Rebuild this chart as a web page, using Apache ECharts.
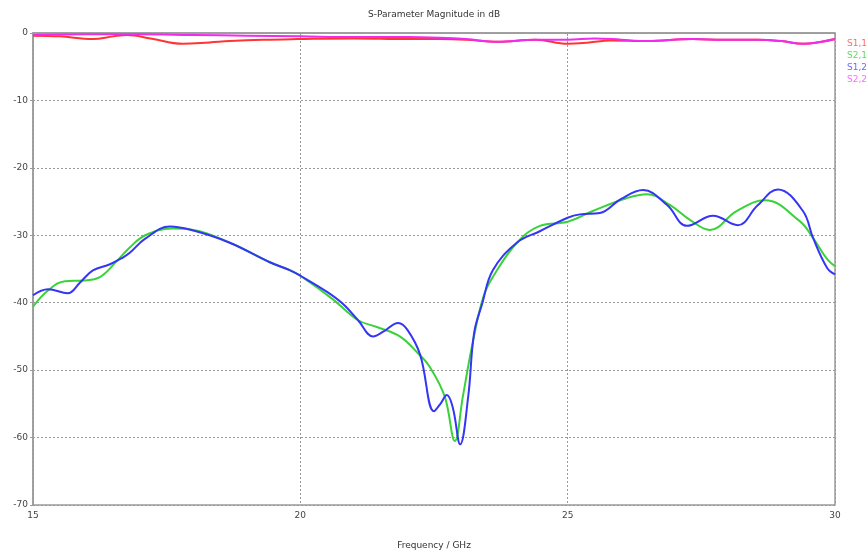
<!DOCTYPE html>
<html>
<head>
<meta charset="utf-8">
<style>
  html, body { margin: 0; padding: 0; background: #ffffff; }
  #chart { width: 868px; height: 555px; }
</style>
<script src="https://cdn.jsdelivr.net/npm/echarts@6/dist/echarts.min.js"></script>
</head>
<body>
<div id="chart"></div>
<script>
// S-parameter magnitudes (dB) over frequency (GHz)
const freqS11 = [15.0, 15.5, 16.12, 16.5, 16.76, 17.2, 17.8, 18.3, 18.68, 19.3, 19.94, 21.0, 22.0, 22.6, 23.1, 23.7, 24.4, 25.0, 25.4, 25.8, 26.48, 27.34, 27.9, 28.54, 29.0, 29.4, 29.75, 30.0];
const dbS11   = [-0.4, -0.5, -0.9, -0.5, -0.3, -0.8, -1.6, -1.4, -1.2, -1.0, -0.9, -0.8, -0.9, -0.9, -1.0, -1.3, -1.0, -1.6, -1.4, -1.1, -1.2, -0.9, -1.0, -1.0, -1.2, -1.6, -1.3, -0.9];

const freqS21 = [15.0, 15.28, 15.6, 15.94, 16.25, 16.57, 16.81, 17.1, 17.6, 18.0, 18.68, 19.43, 19.81, 20.0, 20.61, 21.08, 21.43, 21.86, 22.2, 22.42, 22.7, 22.89, 23.04, 23.21, 23.42, 23.6, 24.05, 24.48, 25.0, 25.47, 26.1, 26.48, 26.91, 27.3, 27.66, 28.16, 28.69, 29.34, 29.59, 29.85, 30.0];
const dbS21   = [-40.6, -38.2, -36.8, -36.7, -36.2, -33.8, -31.8, -30.0, -29.0, -29.2, -31.1, -34.0, -35.2, -36.0, -39.5, -42.6, -43.6, -45.0, -47.5, -49.5, -53.9, -60.5, -53.9, -46.5, -39.2, -36.2, -31.1, -28.6, -28.0, -26.4, -24.5, -23.9, -25.5, -27.8, -29.2, -26.4, -24.8, -27.9, -30.4, -33.5, -34.6];

const freqS12 = [15.0, 15.28, 15.65, 15.88, 16.12, 16.44, 16.68, 16.81, 17.1, 17.56, 18.0, 18.68, 19.43, 19.81, 20.0, 20.5, 20.8, 21.08, 21.36, 21.55, 21.83, 22.0, 22.24, 22.5, 22.62, 22.74, 22.85, 22.99, 23.14, 23.25, 23.4, 23.6, 24.05, 24.48, 25.0, 25.23, 25.6, 26.0, 26.41, 26.86, 27.23, 27.72, 28.18, 28.55, 28.93, 29.4, 29.59, 29.85, 30.0];
const dbS12   = [-38.9, -38.0, -38.6, -37.0, -35.2, -34.3, -33.3, -32.6, -30.5, -28.7, -29.3, -31.1, -34.0, -35.2, -36.0, -38.4, -40.2, -42.6, -45.0, -44.3, -43.0, -44.0, -47.7, -56.1, -55.0, -53.7, -55.5, -61.0, -53.9, -44.5, -40.2, -35.2, -31.1, -29.4, -27.4, -26.9, -26.7, -24.6, -23.3, -25.5, -28.6, -27.1, -28.5, -25.6, -23.2, -26.4, -30.4, -34.8, -35.8];

const freqS22 = [15.0, 16.0, 17.0, 18.0, 19.0, 20.0, 21.0, 22.0, 22.6, 23.1, 23.68, 24.4, 25.0, 25.5, 26.0, 26.48, 27.34, 27.9, 28.54, 29.0, 29.4, 29.75, 30.0];
const dbS22   = [-0.3, -0.2, -0.2, -0.3, -0.4, -0.5, -0.6, -0.6, -0.7, -0.9, -1.3, -1.0, -1.0, -0.8, -1.0, -1.2, -0.9, -1.0, -1.0, -1.2, -1.6, -1.3, -0.9];

const xTicks = [15, 20, 25, 30];
const yTicks = [0, -10, -20, -30, -40, -50, -60, -70];

const seriesNames = ['S1,1', 'S2,1', 'S1,2', 'S2,2'];
const lineColors  = ['#ff3434', '#3ad23a', '#3535f5', '#f02af0'];
const labelColors = ['#ff6a6a', '#5fdc5f', '#6a6aff', '#ff6aff'];

const pair = (xs, ys) => xs.map((x, i) => [x, ys[i]]);
const curves = [pair(freqS11, dbS11), pair(freqS21, dbS21), pair(freqS12, dbS12), pair(freqS22, dbS22)];

const fontFamily = 'DejaVu Sans, Verdana, sans-serif';

const chart = echarts.init(document.getElementById('chart'), null, { renderer: 'canvas' });
chart.setOption({
  animation: false,
  backgroundColor: '#ffffff',
  title: {
    text: 'S-Parameter Magnitude in dB',
    left: 'center',
    top: 5,
    textStyle: { fontSize: 9, fontWeight: 'normal', color: '#333', fontFamily: fontFamily }
  },
  legend: {
    orient: 'vertical',
    left: 842,
    top: 34,
    itemWidth: 0,
    itemHeight: 0,
    itemGap: 3,
    icon: 'rect',
    selectedMode: false,
    data: seriesNames.map((n, i) => ({ name: n, textStyle: { color: labelColors[i] } })),
    textStyle: { fontSize: 9, fontFamily: fontFamily, padding: [0, 0, 0, -5] }
  },
  grid: {
    left: 33, right: 33, top: 33, bottom: 44,
    show: true, borderColor: '#9a9a9a', borderWidth: 1.5, backgroundColor: '#ffffff'
  },
  xAxis: {
    type: 'value',
    min: xTicks[0], max: xTicks[xTicks.length - 1], interval: 5,
    name: 'Frequency / GHz',
    nameLocation: 'middle',
    nameGap: 36,
    nameTextStyle: { fontSize: 9, color: '#333', fontFamily: fontFamily },
    axisLine: { show: true, lineStyle: { color: '#9a9a9a', width: 1.5 } },
    axisTick: { show: true, length: 3, lineStyle: { color: '#9a9a9a' } },
    axisLabel: { fontSize: 9, color: '#444', fontFamily: fontFamily, margin: 6 },
    splitLine: { show: true, lineStyle: { color: '#9a9a9a', type: [2, 2], width: 1 } }
  },
  yAxis: {
    type: 'value',
    min: yTicks[yTicks.length - 1], max: yTicks[0], interval: 10,
    axisLine: { show: true, lineStyle: { color: '#9a9a9a', width: 1.5 } },
    axisTick: { show: true, length: 3, lineStyle: { color: '#9a9a9a' } },
    axisLabel: { fontSize: 9, color: '#444', fontFamily: fontFamily, margin: 5, padding: [0, 0, 3, 0] },
    splitLine: { show: true, lineStyle: { color: '#9a9a9a', type: [2, 2], width: 1 } }
  },
  series: seriesNames.map((n, i) => ({
    name: n,
    type: 'line',
    data: curves[i],
    smooth: 0.4,
    symbol: 'none',
    color: lineColors[i],
    lineStyle: { width: 2, color: lineColors[i] },
    clip: true
  }))
});
</script>
</body>
</html>
